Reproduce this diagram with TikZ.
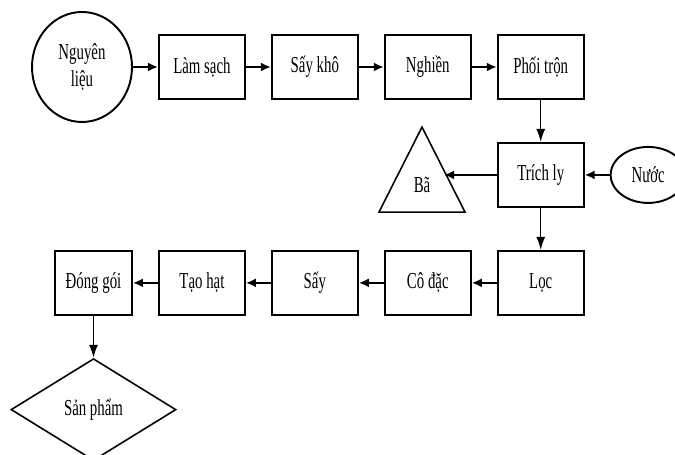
\documentclass[tikz,border=0pt]{standalone}
\usepackage{fontspec}
\setmainfont[FakeStretch=0.65]{Liberation Serif}
\usepackage{tikz}
\usetikzlibrary{arrows.meta, positioning, shapes, shapes.geometric, calc}
\tikzset{
  stage/.style = {
    draw=black,
    line width=1.1pt,
    rectangle,
    minimum width=1.72cm,
    minimum height=1.28cm,
    align=center,
  },
  source/.style = {
    draw=black,
    line width=1.1pt,
    ellipse,
    inner sep=0,
    align=center,
  },
  waste/.style = {
    draw=black,
    line width=0.9pt,
    isosceles triangle,
    isosceles triangle stretches,
    shape border rotate=90,
    minimum width=1.72cm,
    minimum height=1.7cm,
    inner sep=0,
  },
  product/.style = {
    draw=black,
    line width=0.9pt,
    diamond,
    minimum width=3.3cm,
    minimum height=2.04cm,
    inner sep=0,
  },
  flow/.style = {
    -{Latex[length=2mm, width=1.8mm]},
    line width=1.3pt,
  },
  drop/.style = {
    -{Latex[length=2.6mm, width=1.8mm]},
    line width=0.8pt,
  },
  node distance=0.84cm and 0.5cm,
}

\begin{document}
\begin{tikzpicture}[
  font=\fontsize{13}{15}\selectfont,
]
\useasboundingbox (0,0) rectangle (13.5,-9.1);

\node(Raw)[source, minimum width=2cm, minimum height=2.2cm] at (1.64,-1.34) {Nguyên\\liệu};
\node(Clean)[stage, right=of Raw] {Làm sạch};
\node(DryA)[stage, right=of Clean] {Sấy khô};
\node(Grind)[stage, right=of DryA] {Nghiền};
\node(Mix)[stage, right=of Grind] {Phối trộn};

\node(Extract)[stage, below=of Mix] {Trích ly};
\node(Water)[source, minimum width=1.5cm, minimum height=1.12cm, right=of Extract] {Nước};
\node(Residue)[waste, anchor=apex] at (8.44,-2.5) {};
\node(ResidueText) at ($(Residue.lower side)+(0,0.55)$) {Bã};

\node(Filter)[stage, below=of Extract] {Lọc};
\node(Thicken)[stage, left=of Filter] {Cô đặc};
\node(DryB)[stage, left=of Thicken] {Sấy};
\node(Granule)[stage, left=of DryB] {Tạo hạt};
\node(Pack)[stage, minimum width=1.54cm, left=of Granule] {Đóng gói};
\node(Product)[product, below=of Pack] {Sản phẩm};

\draw[flow] (Raw) -- (Clean);
\draw[flow] (Clean) -- (DryA);
\draw[flow] (DryA) -- (Grind);
\draw[flow] (Grind) -- (Mix);
\draw[drop] (Mix) -- (Extract);
\draw[flow] (Water) -- (Extract);
\draw[flow] (Extract) -- (Extract -| Residue.right side);
\draw[drop] (Extract) -- (Filter);
\draw[flow] (Filter) -- (Thicken);
\draw[flow] (Thicken) -- (DryB);
\draw[flow] (DryB) -- (Granule);
\draw[flow] (Granule) -- (Pack);
\draw[drop] (Pack) -- (Product);

\end{tikzpicture}
\end{document}
